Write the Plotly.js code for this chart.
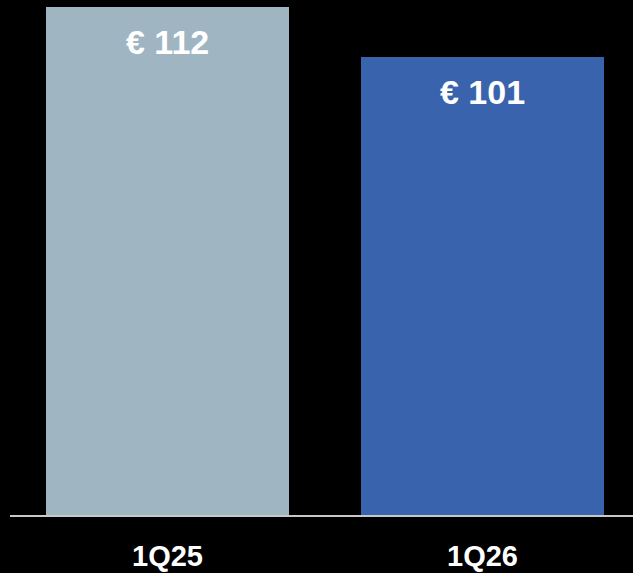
<!DOCTYPE html>
<html>
<head>
<meta charset="utf-8">
<script src="https://cdn.plot.ly/plotly-3.0.1.min.js"></script>
<style>html,body{margin:0;padding:0;background:#000;}#chart{width:633px;height:573px;}</style>
</head>
<body>
<div id="chart"></div>
<script>
const categories = ["1Q25", "1Q26"];
const values = [112, 101];
const labels = ["€ 112", "€ 101"];
const colors = ["#a0b5c2", "#3a63ad"];

const trace = {
  type: "bar",
  x: [0, 1],
  y: values,
  width: 0.7714,
  marker: {color: colors, line: {width: 0}},
  hoverinfo: "skip"
};

const annotations = values.map((v, i) => ({
  x: i, y: v, xref: "x", yref: "y",
  text: "<b>" + labels[i] + "</b>",
  showarrow: false,
  yanchor: "middle",
  yshift: -35,
  font: {family: "Liberation Sans, Arial, sans-serif", size: 34, color: "#ffffff"}
}));

const layout = {
  width: 633, height: 573,
  paper_bgcolor: "#000000", plot_bgcolor: "#000000",
  margin: {l: 10, r: 0, t: 0, b: 58},
  showlegend: false,
  bargap: 0,
  xaxis: {
    range: [-0.5, 1.4778],
    tickvals: [0, 1],
    ticktext: categories.map(c => "<b>" + c + "</b>"),
    tickfont: {family: "Liberation Sans, Arial, sans-serif", size: 29, color: "#ffffff"},
    ticklabelstandoff: 14,
    showline: true, linecolor: "#c8c8c8", linewidth: 2,
    showgrid: false, zeroline: false, ticks: "",
    fixedrange: true
  },
  yaxis: {
    range: [0, 113.54],
    visible: false, showgrid: false, zeroline: false,
    fixedrange: true
  },
  annotations: annotations
};

Plotly.newPlot("chart", [trace], layout, {displayModeBar: false, staticPlot: true});
</script>
</body>
</html>
